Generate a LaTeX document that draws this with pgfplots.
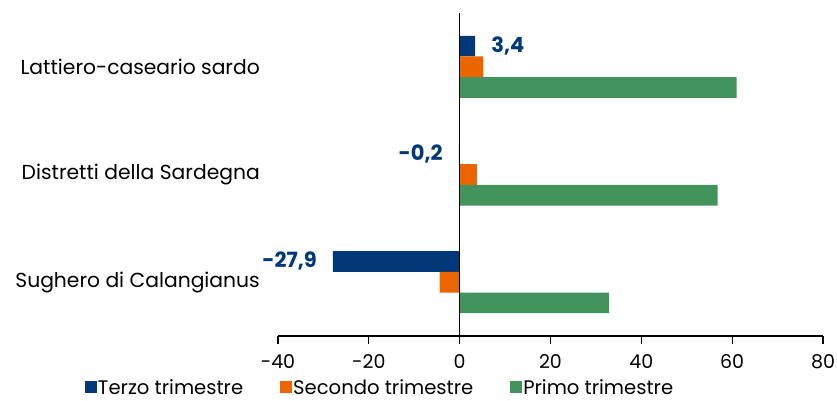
\documentclass[border=0pt]{standalone}
\usepackage{fontspec}
\setmainfont{Poppins}
\usepackage{pgfplots}
\pgfplotsset{compat=1.18}
\definecolor{terzo}{RGB}{0,56,120}
\definecolor{secondo}{RGB}{236,102,0}
\definecolor{primo}{RGB}{66,147,92}
\newcommand{\catfont}{\fontsize{20.3bp}{24bp}\selectfont}
\newcommand{\tickfont}{\fontsize{19bp}{22bp}\selectfont}
\newcommand{\legfont}{\fontsize{19.6bp}{23bp}\selectfont}
\newcommand{\valfont}{\fontsize{21bp}{24bp}\selectfont\bfseries}
\pgfplotsset{
  sqlegend/.style={legend image code/.code={\fill[##1,draw=none] (0bp,-6bp) rectangle (12bp,6bp);}}
}
\begin{document}
\begin{tikzpicture}
\begin{axis}[
  scale only axis, width=545bp, height=323bp,
  xmin=-40, xmax=80, ymin=-0.5, ymax=2.5,
  xbar, bar width=20.7bp,
  axis x line*=bottom,
  axis y line*=left,
  y axis line style={draw=none},
  x axis line style={line width=1.2bp, black},
  xtick={-40,-20,...,80},
  ytick={0,1,2},
  yticklabels={Sughero di Calangianus, Distretti della Sardegna, Lattiero-caseario sardo},
  ytick style={draw=none},
  xtick style={line width=1.2bp, black},
  tick align=outside,
  major tick length=8bp,
  /pgf/number format/assume math mode=true,
  /pgf/number format/use comma,
  xticklabel style={font=\tickfont, inner sep=0pt, yshift=-10bp},
  yticklabel style={font=\catfont, inner sep=0pt, xshift=-10bp},
  legend columns=3,
  legend style={draw=none, fill=none, font=\legfont, at={(axis description cs:-0.36,-0.159)}, anchor=west,
    /tikz/every even column/.append style={column sep=36bp},
    nodes={inner sep=1bp}},
  clip=false,
]
\addplot[sqlegend, fill=terzo, draw=none, bar shift=20.7bp,
  nodes near coords, nodes near coords align={horizontal},
  every node near coord/.append style={font=\valfont, text=terzo, inner xsep=16bp, inner ysep=0pt,
    /pgf/number format/fixed, /pgf/number format/precision=1, /pgf/number format/fixed zerofill}]
  coordinates {(-27.9,0) (-0.2,1) (3.4,2)};
\addplot[sqlegend, fill=secondo, draw=none, bar shift=0bp]
  coordinates {(-4.4,0) (3.8,1) (5.2,2)};
\addplot[sqlegend, fill=primo, draw=none, bar shift=-20.7bp]
  coordinates {(32.9,0) (56.8,1) (61.0,2)};
\legend{Terzo trimestre, Secondo trimestre, Primo trimestre}
\draw[black, line width=1.2bp] (axis cs:0,-0.5) -- (axis cs:0,2.5);
\coordinate (bl) at (rel axis cs:0,0);
\coordinate (tr) at (rel axis cs:1,1);
\end{axis}
\pgfresetboundingbox
\path ([shift={(-278bp,-65bp)}]bl) rectangle ([shift={(14bp,13bp)}]tr);
\end{tikzpicture}
\end{document}
